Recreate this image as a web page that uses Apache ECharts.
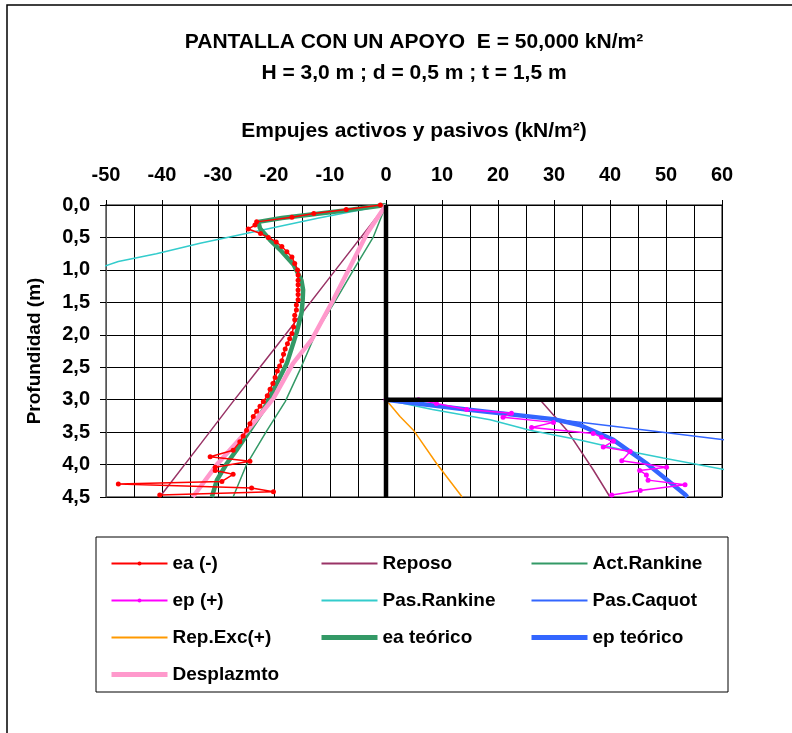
<!DOCTYPE html>
<html>
<head>
<meta charset="utf-8">
<script src="https://cdn.jsdelivr.net/npm/echarts@6/dist/echarts.min.js"></script>
<style>
html, body { margin: 0; padding: 0; background: #fff; }
#chart { width: 792px; height: 733px; }
</style>
</head>
<body>
<div id="chart"></div>
<script>
// [empuje kN/m2, profundidad m]
const eaNeg = [[-1.0,0.0],[-7.1,0.07],[-12.9,0.13],[-16.8,0.19],[-23.1,0.26],[-23.4,0.31],[-24.6,0.37],[-22.4,0.44],
  [-21.0,0.50],[-19.6,0.57],[-18.6,0.64],[-17.7,0.72],[-16.8,0.80],[-16.3,0.90],[-15.8,1.00],[-15.7,1.08],[-15.7,1.16],
  [-15.7,1.23],[-15.7,1.31],[-15.7,1.38],[-15.7,1.46],[-16.0,1.54],[-16.0,1.62],[-16.3,1.70],[-16.3,1.77],[-16.5,1.88],
  [-16.8,1.98],[-17.2,2.06],[-17.6,2.14],[-18.0,2.22],[-18.3,2.30],[-18.6,2.40],[-19.0,2.48],[-19.4,2.56],[-19.8,2.66],
  [-20.2,2.75],[-20.7,2.84],[-21.2,2.94],[-21.9,3.03],[-22.5,3.10],[-23.1,3.18],[-23.7,3.26],[-24.3,3.37],[-24.9,3.47],
  [-25.5,3.56],[-26.1,3.65],[-27.3,3.78],[-31.4,3.88],[-24.3,3.95],[-30.5,4.04],[-30.5,4.09],[-27.3,4.15],[-29.3,4.26],
  [-47.8,4.30],[-24.0,4.36],[-20.1,4.42],[-40.4,4.47]]
const reposoAct = [[0,0],[-9.0,1.0],[-18.7,2.08],[-22.4,2.49],[-27.5,3.05],[-33.0,3.67],[-40.4,4.5]]
const reposoPas = [[27.5,3.0],[32.3,3.47],[37.0,4.08],[40.0,4.5]]
const actRankine = [[0,0],[-2.3,0.5],[-5.8,1.0],[-9.2,1.5],[-12.3,1.93],[-15.1,2.49],[-18.0,3.03],[-21.3,3.48],[-24.9,4.0],[-27.3,4.5]]
const epPos = [[0,3.0],[5.8,3.0],[9.0,3.06],[14.4,3.15],[22.4,3.21],[20.9,3.27],[29.9,3.35],[26.0,3.43],[37.0,3.52],
  [38.5,3.58],[40.6,3.64],[38.8,3.73],[43.6,3.80],[42.1,3.94],[50.1,4.04],[45.3,4.09],[46.5,4.16],[46.8,4.24],
  [53.4,4.31],[45.4,4.40],[40.3,4.47]]
const pasRankineAct = [[0,0],[-12.0,0.2],[-25.0,0.44],[-33.2,0.59],[-41.0,0.75],[-47.8,0.87],[-50.5,0.95]]
const pasRankinePas = [[0,3.0],[8.3,3.15],[18.6,3.31],[25.7,3.47],[34.6,3.62],[43.6,3.80],[49.5,3.90],[60.5,4.08]]
const pasCaquot = [[0,3.0],[14.4,3.15],[29.9,3.30],[35.8,3.36],[46.5,3.47],[60.5,3.62]]
const repExc = [[0,3.0],[2.5,3.26],[4.9,3.47],[9.0,3.98],[13.6,4.5]]
const eaTeorico = [[0,0],[-7.0,0.08],[-18.6,0.20],[-22.8,0.26],[-22.5,0.36],[-20.7,0.54],[-18.9,0.69],[-16.5,0.92],
  [-15.1,1.16],[-14.8,1.31],[-14.9,1.50],[-15.1,1.67],[-15.9,1.95],[-17.7,2.44],[-19.8,2.80],[-21.9,3.16],[-24.3,3.47],
  [-26.7,3.78],[-28.4,3.98],[-30.2,4.24],[-31.1,4.5]]
const epTeorico = [[0,3.0],[14.4,3.15],[29.9,3.30],[34.6,3.39],[40.6,3.62],[46.5,3.98],[50.1,4.23],[53.4,4.46],[53.8,4.5]]
const desplazmto = [[0,0],[-3.4,0.44],[-6.4,0.95],[-9.4,1.46],[-13.3,2.08],[-16.6,2.44],[-20.1,2.98],[-24.9,3.49],[-30.2,4.0],[-34.5,4.5]]
const pantalla = [[0,0],[0,4.5]]
const excavacion = [[0,3.0],[60,3.0]]

const FONT = '"Liberation Sans", Arial, sans-serif'

const line = (name, data, color, width, z, marker) => ({
  name: name,
  type: 'line',
  data: data,
  z: z,
  symbol: marker ? 'circle' : 'none',
  symbolSize: 5,
  showSymbol: !!marker,
  itemStyle: { color: color },
  lineStyle: { color: color, width: width },
  emphasis: { disabled: true },
  animation: false
})

// sin punto en la leyenda para las series sin marcador
const noDot = (name, w) => ({ name: name, itemStyle: { opacity: 0 }, lineStyle: { width: w || 2 } })

const legendBase = {
  orient: 'vertical',
  top: 549,
  itemWidth: 56,
  itemHeight: 5,
  itemGap: 18,
  textStyle: { fontFamily: FONT, fontWeight: 'bold', fontSize: 19, color: '#000' },
  selectedMode: false
}

const setOption = () => {
  return {
    backgroundColor: '#fff',
    title: {
      text: 'PANTALLA CON UN APOYO  E = 50,000 kN/m²\nH = 3,0 m ; d = 0,5 m ; t = 1,5 m',
      left: 409,
      top: 22,
      textAlign: 'center',
      textStyle: { fontFamily: FONT, fontWeight: 'bold', fontSize: 21, lineHeight: 31, color: '#000' }
    },
    graphic: [
      { type: 'rect', shape: { x: 7, y: 5, width: 800, height: 800 }, style: { fill: 'none', stroke: '#000', lineWidth: 1.5 }, silent: true },
      { type: 'rect', shape: { x: 96, y: 537, width: 632, height: 155 }, style: { fill: 'none', stroke: '#000', lineWidth: 1 }, silent: true }
    ],
    legend: [
      Object.assign({ left: 104, data: [
        { name: 'ea (-)', lineStyle: { width: 2 } }, { name: 'ep (+)', lineStyle: { width: 2 } },
        noDot('Rep.Exc(+)'), noDot('Desplazmto', 5)] }, legendBase),
      Object.assign({ left: 314, data: [noDot('Reposo'), noDot('Pas.Rankine'), noDot('ea teórico', 5)] }, legendBase),
      Object.assign({ left: 524, data: [noDot('Act.Rankine'), noDot('Pas.Caquot'), noDot('ep teórico', 5)] }, legendBase)
    ],
    grid: { left: 106, right: 70, top: 205, bottom: 236, show: true, borderColor: '#808080', borderWidth: 2 },
    xAxis: {
      type: 'value',
      position: 'top',
      min: -50,
      max: 60,
      interval: 10,
      name: 'Empujes activos y pasivos (kN/m²)',
      nameLocation: 'middle',
      nameGap: 63,
      nameTextStyle: { fontFamily: FONT, fontWeight: 'bold', fontSize: 21, color: '#000' },
      axisLine: { show: true, onZero: false, lineStyle: { color: '#000', width: 1 } },
      axisTick: { show: true, length: 5, lineStyle: { color: '#000' } },
      axisLabel: { margin: 20, fontFamily: FONT, fontWeight: 'bold', fontSize: 20, color: '#000' },
      splitLine: { show: true, lineStyle: { color: '#000', width: 1 } },
      minorTick: { show: false, splitNumber: 2 },
      minorSplitLine: { show: true, lineStyle: { color: '#000', width: 1 } }
    },
    yAxis: {
      type: 'value',
      inverse: true,
      min: 0,
      max: 4.5,
      interval: 0.5,
      name: 'Profundidad (m)',
      nameLocation: 'middle',
      nameRotate: 90,
      nameGap: 62,
      nameTextStyle: { fontFamily: FONT, fontWeight: 'bold', fontSize: 19, color: '#000' },
      axisLine: { show: true, onZero: false, lineStyle: { color: '#555', width: 1 } },
      axisTick: { show: true, length: 6, lineStyle: { color: '#000' } },
      axisLabel: {
        margin: 16, fontFamily: FONT, fontWeight: 'bold', fontSize: 20, color: '#000',
        formatter: v => v.toFixed(1).replace('.', ',')
      },
      splitLine: { show: true, lineStyle: { color: '#000', width: 1 } }
    },
    series: [
      line('Reposo', reposoAct, '#993366', 1.5, 3),
      line('Reposo', reposoPas, '#993366', 1.5, 3),
      line('Act.Rankine', actRankine, '#339966', 1.5, 3),
      line('Pas.Rankine', pasRankineAct, '#33CCCC', 1.5, 3),
      line('Pas.Rankine', pasRankinePas, '#33CCCC', 1.5, 3),
      line('Pas.Caquot', pasCaquot, '#3366FF', 1.5, 3),
      line('Rep.Exc(+)', repExc, '#FF9900', 1.5, 3),
      line('ea teórico', eaTeorico, '#339966', 4.5, 4),
      line('ep teórico', epTeorico, '#3366FF', 4.5, 4),
      line('Desplazmto', desplazmto, '#FF99CC', 4.5, 4),
      line('ea (-)', eaNeg, '#FF0000', 1.5, 5, true),
      line('ep (+)', epPos, '#FF00FF', 1.5, 5, true),
      Object.assign(line('pantalla', pantalla, '#000', 4.5, 6), { silent: true }),
      Object.assign(line('excavacion', excavacion, '#000', 4.5, 6), { silent: true })
    ]
  }
}

const initChart = () => {
  const chartDom = document.getElementById('chart')
  const myChart = echarts.init(chartDom, null, { renderer: 'canvas' })
  myChart.setOption(setOption(), true)
}
initChart()
</script>
</body>
</html>
